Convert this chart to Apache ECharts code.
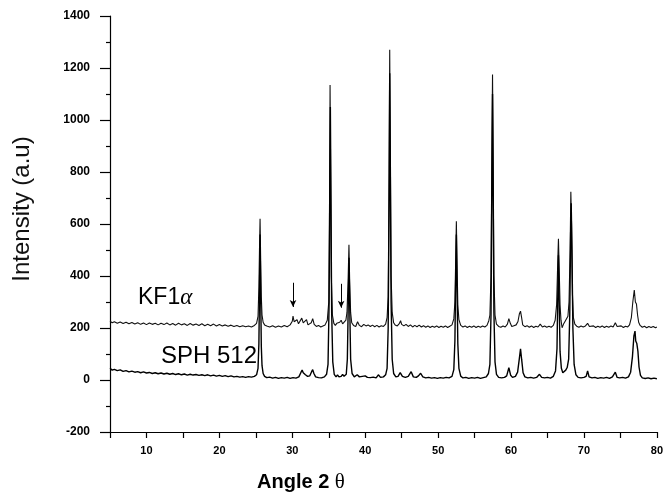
<!DOCTYPE html>
<html>
<head>
<meta charset="utf-8">
<script src="https://cdn.jsdelivr.net/npm/echarts@6/dist/echarts.min.js"></script>
<style>
html,body{margin:0;padding:0;background:#fff;}
#chart{width:666px;height:496px;}
</style>
</head>
<body>
<div id="chart"></div>
<script>
// ---- data (angle 2θ, intensity a.u.) ----
const sph512 = [
[5.0,45],[5.3,38],[5.6,41],[6.0,36],[6.4,39],[6.8,33],[7.2,36],[7.6,31],[8.0,34],[8.4,30],[8.8,32],[9.2,28],[9.6,31],[10.0,27],
[10.4,29],[10.8,25],[11.2,28],[11.6,24],[12.0,27],[12.4,23],[12.8,26],[13.2,22],[13.6,25],[14.0,21],[14.4,24],[14.8,20],[15.2,23],
[15.6,19],[16.0,22],[16.4,19],[16.8,21],[17.2,18],[17.6,20],[18.0,17],[18.4,20],[18.8,16],[19.2,19],[19.6,15],[20.0,18],[20.4,14],
[20.8,17],[21.2,13],[21.6,16],[22.0,12],[22.4,14],[22.8,11],[23.2,13],[23.6,10],[24.0,13],[24.4,11],[24.8,14],[25.1,20],[25.3,45],
[25.42,140],[25.5,330],[25.58,560],[25.66,340],[25.75,130],[25.85,55],[26.0,25],[26.2,14],[26.5,9],[26.9,11],[27.3,7],[27.7,10],
[28.1,6],[28.5,9],[28.9,7],[29.3,10],[29.7,6],[30.1,9],[30.5,7],[30.9,12],[31.2,30],[31.35,38],[31.5,28],[31.8,20],[32.1,14],
[32.4,16],[32.65,32],[32.8,40],[32.95,26],[33.2,12],[33.6,9],[34.0,8],[34.4,12],[34.7,22],[34.9,60],[35.05,300],[35.15,800],
[35.22,1050],[35.3,700],[35.4,260],[35.55,70],[35.75,22],[36.0,12],[36.2,20],[36.4,12],[36.7,14],[36.9,22],[37.1,14],[37.4,22],
[37.55,80],[37.68,300],[37.78,470],[37.88,280],[38.0,80],[38.2,25],[38.5,12],[38.9,20],[39.2,12],[39.6,14],[40.0,16],[40.3,10],
[40.7,9],[41.1,11],[41.5,8],[41.8,20],[42.1,10],[42.5,12],[42.8,20],[43.0,45],[43.15,200],[43.28,700],[43.36,1180],[43.45,800],
[43.55,300],[43.7,80],[43.9,25],[44.2,12],[44.5,14],[44.8,28],[45.1,14],[45.5,10],[45.9,14],[46.3,32],[46.6,12],[47.0,10],[47.3,16],
[47.6,26],[47.9,12],[48.3,8],[48.7,10],[49.1,7],[49.5,9],[49.9,6],[50.3,9],[50.7,7],[51.1,10],[51.5,8],[51.9,14],[52.15,40],
[52.3,150],[52.42,420],[52.5,560],[52.58,380],[52.7,140],[52.85,45],[53.1,15],[53.4,8],[53.8,10],[54.2,6],[54.6,9],[55.0,7],
[55.4,10],[55.8,6],[56.2,9],[56.6,12],[56.9,25],[57.1,60],[57.25,250],[57.38,800],[57.46,1100],[57.55,720],[57.65,260],[57.8,70],
[58.0,22],[58.3,10],[58.7,8],[59.1,10],[59.4,16],[59.7,47],[59.95,18],[60.2,10],[60.6,14],[60.9,30],[61.15,85],[61.3,120],
[61.45,80],[61.65,28],[61.9,12],[62.3,8],[62.7,10],[63.1,7],[63.5,10],[63.9,22],[64.2,10],[64.6,8],[65.0,10],[65.4,7],[65.8,14],
[66.1,35],[66.3,120],[66.42,350],[66.5,480],[66.6,300],[66.72,110],[66.9,45],[67.1,28],[67.3,32],[67.5,38],[67.7,48],[67.9,80],
[68.05,250],[68.17,560],[68.25,680],[68.35,500],[68.48,200],[68.65,60],[68.9,20],[69.2,10],[69.6,8],[70.0,10],[70.3,14],[70.5,35],
[70.7,12],[71.1,8],[71.5,10],[71.9,6],[72.3,9],[72.7,7],[73.1,10],[73.5,6],[73.9,12],[74.3,30],[74.55,10],[74.9,8],[75.3,10],
[75.7,7],[76.1,12],[76.4,30],[76.65,90],[76.85,170],[77.0,188],[77.1,150],[77.25,140],[77.4,110],[77.55,50],[77.75,18],[78.0,8],
[78.4,6],[78.8,8],[79.2,5],[79.6,7],[80.0,5]
];
const kf1a = [
[5.0,226],[5.3,220],[5.6,224],[6.0,218],[6.4,223],[6.8,217],[7.2,222],[7.6,216],[8.0,221],[8.4,215],[8.8,220],[9.2,214],[9.6,219],
[10.0,213],[10.4,219],[10.8,214],[11.2,218],[11.6,212],[12.0,218],[12.4,213],[12.8,219],[13.2,212],[13.6,217],[14.0,211],[14.4,218],
[14.8,212],[15.2,216],[15.6,210],[16.0,217],[16.4,211],[16.8,215],[17.2,210],[17.6,216],[18.0,209],[18.4,214],[18.8,209],[19.2,215],
[19.6,208],[20.0,213],[20.4,208],[20.8,212],[21.2,207],[21.6,211],[22.0,206],[22.4,210],[22.8,205],[23.2,209],[23.6,205],[24.0,208],
[24.4,204],[24.8,210],[25.1,218],[25.3,245],[25.42,360],[25.5,500],[25.58,620],[25.66,470],[25.75,320],[25.85,250],[26.0,222],
[26.2,212],[26.5,208],[26.9,204],[27.3,209],[27.7,203],[28.1,208],[28.5,204],[28.9,210],[29.3,205],[29.7,212],[30.0,226],[30.1,246],
[30.25,224],[30.5,218],[30.65,232],[30.85,216],[31.1,222],[31.3,238],[31.5,220],[31.75,214],[31.95,232],[32.15,212],[32.4,208],
[32.6,220],[32.8,236],[33.0,214],[33.3,206],[33.6,210],[33.9,204],[34.2,208],[34.5,212],[34.8,230],[35.0,300],[35.1,600],[35.18,1135],
[35.26,800],[35.35,400],[35.5,250],[35.7,218],[35.9,210],[36.1,218],[36.3,212],[36.5,222],[36.7,230],[36.9,216],[37.1,220],[37.35,230],
[37.5,260],[37.65,380],[37.77,520],[37.87,380],[38.0,260],[38.15,220],[38.4,210],[38.7,206],[38.95,224],[39.2,210],[39.5,205],
[39.8,214],[40.1,208],[40.4,212],[40.7,206],[41.0,211],[41.3,205],[41.6,210],[41.9,204],[42.2,209],[42.5,206],[42.8,215],[43.0,240],
[43.15,320],[43.28,800],[43.36,1270],[43.44,900],[43.55,400],[43.7,260],[43.9,220],[44.1,212],[44.4,208],[44.7,218],[44.85,228],
[45.0,214],[45.3,208],[45.6,214],[45.9,206],[46.2,212],[46.5,204],[46.8,210],[47.1,205],[47.4,211],[47.7,204],[48.0,209],[48.3,203],
[48.6,208],[48.9,202],[49.2,207],[49.5,203],[49.8,208],[50.1,202],[50.4,207],[50.7,203],[51.0,208],[51.3,202],[51.6,207],[51.9,212],
[52.15,235],[52.3,300],[52.42,480],[52.5,611],[52.58,470],[52.7,290],[52.85,232],[53.1,210],[53.4,204],[53.7,208],[54.0,202],
[54.3,207],[54.6,203],[54.9,208],[55.2,202],[55.5,207],[55.8,203],[56.1,208],[56.4,204],[56.7,210],[56.95,228],[57.1,250],[57.25,400],
[57.38,900],[57.46,1175],[57.55,850],[57.65,400],[57.8,250],[58.0,215],[58.3,206],[58.6,203],[58.9,208],[59.2,204],[59.5,215],
[59.7,236],[59.9,218],[60.1,206],[60.4,209],[60.7,212],[60.95,225],[61.15,255],[61.3,265],[61.45,240],[61.6,212],[61.9,205],
[62.2,209],[62.5,203],[62.8,208],[63.1,202],[63.4,207],[63.7,204],[64.0,215],[64.3,204],[64.6,208],[64.9,203],[65.2,207],[65.5,203],
[65.8,210],[66.05,230],[66.25,290],[66.4,450],[66.5,543],[66.6,430],[66.72,290],[66.85,230],[67.0,201],[67.2,215],[67.4,225],
[67.6,232],[67.8,245],[67.95,300],[68.1,500],[68.2,724],[68.3,600],[68.42,330],[68.55,240],[68.75,215],[69.0,207],[69.3,203],
[69.6,208],[69.9,204],[70.2,208],[70.5,218],[70.75,206],[71.0,203],[71.3,208],[71.6,202],[71.9,207],[72.2,203],[72.5,208],[72.8,202],
[73.1,207],[73.4,203],[73.7,208],[74.0,204],[74.3,220],[74.55,206],[74.8,203],[75.1,208],[75.4,202],[75.7,207],[76.0,204],[76.25,212],
[76.5,240],[76.7,300],[76.9,346],[77.05,300],[77.2,292],[77.35,250],[77.5,222],[77.7,210],[78.0,203],[78.3,207],[78.6,201],[78.9,206],
[79.2,202],[79.5,206],[79.8,201],[80.0,204]
];
// arrows marking extra KF1α reflections: [angle, tail intensity, head intensity]
const arrowMarks = [[30.1, 374, 281], [36.7, 370, 278]];
const seriesNames = ['SPH 512', 'KF1α'];

const chart = echarts.init(document.getElementById('chart'), null, {renderer: 'canvas'});
const labelFont = 'Liberation Sans, Arial, Helvetica, sans-serif';
chart.setOption({
  animation: false,
  backgroundColor: '#ffffff',
  grid: {left: 110, right: 7, top: 16, bottom: 64},
  xAxis: {
    type: 'value', min: 5, max: 80, interval: 5,
    axisLine: {show: true, onZero: false, lineStyle: {color: '#000', width: 1.2}},
    axisTick: {show: true, inside: false, length: 6, lineStyle: {color: '#000', width: 1.2}},
    axisLabel: {
      show: true, margin: 13, color: '#000', fontSize: 11, fontWeight: 'bold', fontFamily: labelFont,
      formatter: v => (v % 10 === 0 ? String(v) : '')
    },
    splitLine: {show: false}
  },
  yAxis: {
    type: 'value', min: -200, max: 1400, interval: 200,
    axisLine: {show: true, onZero: false, lineStyle: {color: '#000', width: 1.2}},
    axisTick: {show: true, inside: false, length: 10, lineStyle: {color: '#000', width: 1.2}},
    minorTick: {show: true, splitNumber: 2, length: 4, lineStyle: {color: '#000', width: 1.2}},
    axisLabel: {formatter: v => String(v), margin: 20, color: '#000', fontSize: 12, fontWeight: 'bold', fontFamily: labelFont},
    splitLine: {show: false}
  },
  series: [{
    name: seriesNames[0], type: 'line', data: sph512, showSymbol: false, symbol: 'none',
    lineStyle: {color: '#000', width: 1.4}, z: 3
  }, {
    name: seriesNames[1], type: 'line', data: kf1a, showSymbol: false, symbol: 'none',
    lineStyle: {color: '#111', width: 1.1}, z: 2,
    markLine: {
      silent: true, symbol: ['none', 'arrow'], symbolSize: [5, 7],
      label: {show: false},
      lineStyle: {color: '#000', width: 1, type: 'solid'},
      data: arrowMarks.map(a => [{coord: [a[0], a[1]]}, {coord: [a[0], a[2]]}])
    }
  }],
  graphic: [{
    type: 'text', x: 22, y: 209, rotation: Math.PI / 2,
    style: {text: 'Intensity (a.u)', fill: '#111', font: '24px ' + labelFont, textAlign: 'center', textVerticalAlign: 'middle'}
  }, {
    type: 'text', x: 301, y: 482,
    style: {
      text: '{b|Angle 2 }{t|θ}', textAlign: 'center', textVerticalAlign: 'middle',
      rich: {
        b: {fontSize: 20, fontWeight: 'bold', fontFamily: labelFont, fill: '#000'},
        t: {fontSize: 21, fontFamily: 'Liberation Serif, DejaVu Serif, serif', fill: '#000'}
      }
    }
  }, {
    type: 'text', x: 138, y: 298,
    style: {
      text: '{a|KF1}{g|α}', textAlign: 'left', textVerticalAlign: 'middle',
      rich: {
        a: {fontSize: 23, fontFamily: labelFont, fill: '#000'},
        g: {fontSize: 23, fontFamily: 'Liberation Serif, DejaVu Serif, serif', fontStyle: 'italic', fill: '#000'}
      }
    }
  }, {
    type: 'text', x: 161, y: 356,
    style: {text: seriesNames[0], fill: '#000', font: '24px ' + labelFont, textAlign: 'left', textVerticalAlign: 'middle'}
  }]
});
</script>
</body>
</html>
